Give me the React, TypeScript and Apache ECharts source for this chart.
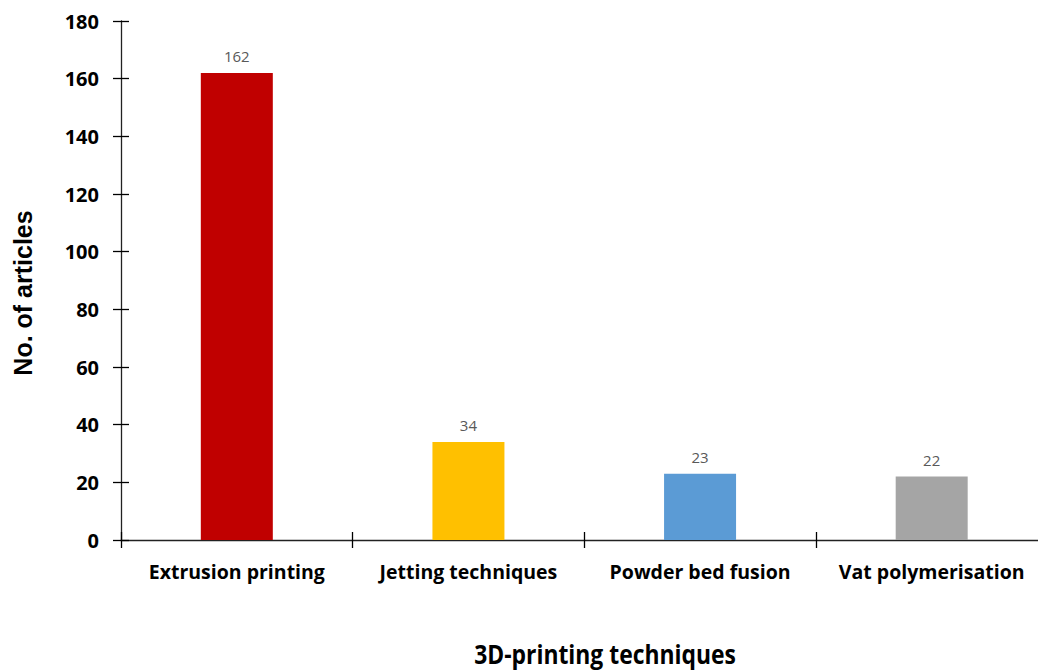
import React, { useEffect, useRef } from "react";
import * as echarts from "echarts";

const categories = ["Extrusion printing", "Jetting techniques", "Powder bed fusion", "Vat polymerisation"];
const articleCounts = [162, 34, 23, 22];
const barColors = ["#C00000", "#FFC000", "#5B9BD5", "#A5A5A5"];
const yTicks = { min: 0, max: 180, interval: 20 };

const FONT = "'Open Sans', sans-serif";
const ARIAL = "'Liberation Sans', Arial, sans-serif";

export default function App() {
  const ref = useRef<HTMLDivElement>(null);

  useEffect(() => {
    if (!ref.current) return;
    const chart = echarts.init(ref.current, undefined, { renderer: "svg" });

    const tickStyle = { color: "#000", width: 1.3 };

    chart.setOption({
      animation: false,
      backgroundColor: "#fff",
      // the plot runs a little past the right edge of the canvas
      grid: {
        left: 121,
        top: 21,
        height: 519,
        width: 926.5,
        containLabel: false,
        outerBoundsMode: "none",
      },
      xAxis: [
        {
          type: "category",
          data: categories,
          position: "bottom",
          axisLine: { show: true, lineStyle: { color: "#222", width: 1.3 } },
          axisTick: { show: true, inside: false, length: 8, lineStyle: tickStyle },
          axisLabel: {
            interval: 0,
            color: "#000",
            fontFamily: FONT,
            fontWeight: "bold",
            fontSize: 19.5,
            margin: 21,
          },
        },
        {
          type: "category",
          data: categories,
          position: "bottom",
          axisLine: { show: false },
          axisTick: { show: true, inside: true, length: 8, lineStyle: tickStyle },
          axisLabel: { show: false },
        },
      ],
      yAxis: [
        {
          type: "value",
          min: yTicks.min,
          max: yTicks.max,
          interval: yTicks.interval,
          axisLine: { show: true, lineStyle: { color: "#222", width: 1.3 } },
          axisTick: { show: true, inside: false, length: 8, lineStyle: tickStyle },
          splitLine: { show: false },
          axisLabel: {
            color: "#000",
            fontFamily: FONT,
            fontWeight: "bold",
            fontSize: 20,
            margin: 22,
          },
        },
        {
          type: "value",
          min: yTicks.min,
          max: yTicks.max,
          interval: yTicks.interval,
          position: "left",
          axisLine: { show: false },
          axisTick: { show: true, inside: true, length: 8, lineStyle: tickStyle },
          splitLine: { show: false },
          axisLabel: { show: false },
        },
      ],
      series: [
        {
          type: "bar",
          barWidth: 72,
          data: articleCounts.map((v, i) => ({ value: v, itemStyle: { color: barColors[i] } })),
          label: {
            show: true,
            position: "top",
            distance: 9,
            color: "#595959",
            fontFamily: FONT,
            fontSize: 15,
          },
        },
      ],
      graphic: [
        {
          type: "text",
          x: 23,
          y: 293,
          rotation: Math.PI / 2,
          style: {
            text: "No. of articles",
            font: `bold 25px ${ARIAL}`,
            fill: "#000",
            align: "center",
            verticalAlign: "middle",
          },
        },
        {
          type: "text",
          x: 605,
          y: 654,
          scaleX: 0.88,
          style: {
            text: "3D-printing techniques",
            font: `bold 26px ${FONT}`,
            fill: "#000",
            align: "center",
            verticalAlign: "middle",
          },
        },
      ],
    });

    return () => chart.dispose();
  }, []);

  return <div ref={ref} style={{ width: 1038, height: 671, position: "absolute", left: 0, top: 0 }} />;
}
